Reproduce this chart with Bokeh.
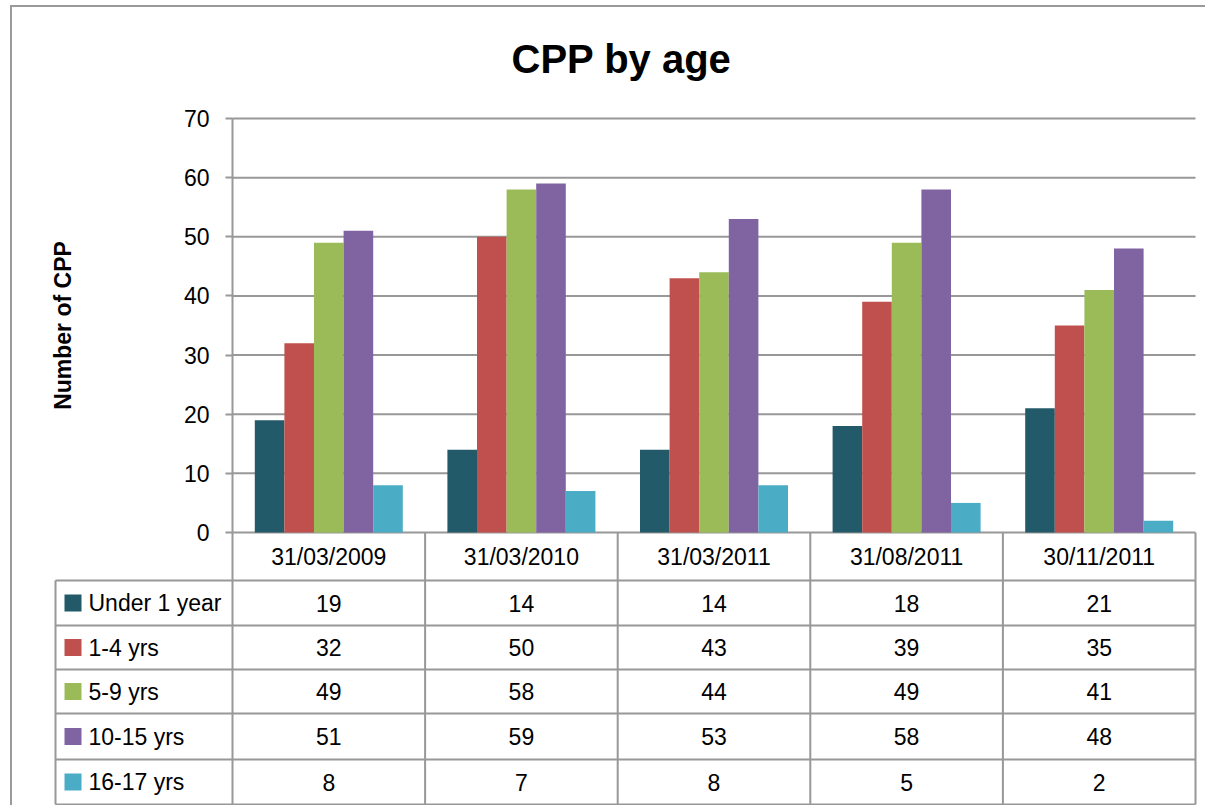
from bokeh.plotting import figure
from bokeh.models import Range1d, LinearAxis, FixedTicker
from bokeh.core.properties import value
from bokeh.embed import file_html
from bokeh.resources import INLINE

# ---------------- data ----------------
dates = ["31/03/2009", "31/03/2010", "31/03/2011", "31/08/2011", "30/11/2011"]
series_names = ["Under 1 year", "1-4 yrs", "5-9 yrs", "10-15 yrs", "16-17 yrs"]
under_1 = [19, 14, 14, 18, 21]
yrs_1_4 = [32, 50, 43, 39, 35]
yrs_5_9 = [49, 58, 44, 49, 41]
yrs_10_15 = [51, 59, 53, 58, 48]
yrs_16_17 = [8, 7, 8, 5, 2]
y_ticks = [0, 10, 20, 30, 40, 50, 60, 70]
colors = ["#235a69", "#c0504d", "#9bbb59", "#8064a2", "#4bacc6"]

series = [under_1, yrs_1_4, yrs_5_9, yrs_10_15, yrs_16_17]

# ---------------- layout (page pixels) ----------------
FONT = "Liberation Sans"
LINE = "#989898"
CANVAS_X0, CANVAS_Y0 = 12, 7
W, H = 1195, 800
FRAME_L, FRAME_R, FRAME_T, FRAME_B = 50, 1200, 95, 807
AXIS_X, TABLE_R = 232, 1195
TOP_Y, ZERO_Y = 118, 532
LEG_L = 55
HEADER_B = 580
ROW_LINES = [580, 625, 669, 713, 759, 804]
TITLE_L = 511

ncat = len(dates)
colw = (TABLE_R - AXIS_X) / ncat


def px_to_x(px):
    return -0.5 + (px - AXIS_X) / colw


y_max = y_ticks[-1]
ppu = (ZERO_Y - TOP_Y) / y_max
y_hi = (ZERO_Y - FRAME_T) / ppu
y_lo = -(FRAME_B - ZERO_Y) / ppu

p = figure(
    width=W, height=H,
    x_range=Range1d(px_to_x(FRAME_L), px_to_x(FRAME_R)),
    y_range=Range1d(y_lo, y_hi),
    x_axis_type=None, y_axis_type=None,
    output_backend="svg", toolbar_location=None,
    min_border_left=FRAME_L - CANVAS_X0,
    min_border_right=CANVAS_X0 + W - FRAME_R,
    min_border_top=FRAME_T - CANVAS_Y0,
    min_border_bottom=CANVAS_Y0 + H - FRAME_B,
    outline_line_color=None,
    background_fill_color="white", border_fill_color="white",
    styles={
        "border-top": "2px solid #9a9a9a",
        "border-left": "2px solid #9a9a9a",
        "margin-top": "5px",
        "margin-left": "10px",
    },
)
p.extra_y_ranges = {"tbl": Range1d(start=FRAME_B - ZERO_Y, end=FRAME_T - ZERO_Y)}

# title
p.title.text = "CPP by age"
p.title.align = "left"
p.title.offset = TITLE_L - FRAME_L
p.title.text_font = FONT
p.title.text_font_size = "40px"
p.title.text_font_style = "bold"
p.title.text_color = "black"
p.title.standoff = 29

# y axis at the left edge of the bar area
yax = LinearAxis(
    fixed_location=-0.5,
    ticker=FixedTicker(ticks=y_ticks),
    bounds=(0, y_max),
    axis_label="Number of CPP",
    axis_label_text_font=FONT,
    axis_label_text_font_size="23px",
    axis_label_text_font_style="bold",
    axis_label_text_color="black",
    axis_label_standoff=105,
    major_label_text_font=FONT,
    major_label_text_font_size="23px",
    major_label_text_color="black",
    major_label_standoff=16,
    major_tick_out=7, major_tick_in=0,
    major_tick_line_color=LINE, major_tick_line_width=2,
    minor_tick_line_color=None,
    axis_line_color=LINE, axis_line_width=2,
)
p.add_layout(yax, "left")

# horizontal gridlines over the bar area
x_left = px_to_x(AXIS_X)
x_right = px_to_x(TABLE_R)
p.segment(x0=[x_left] * len(y_ticks), x1=[x_right] * len(y_ticks),
          y0=y_ticks, y1=y_ticks, line_color=LINE, line_width=2)

# bars
bw = 29.6 / colw
for j, (vals, c) in enumerate(zip(series, colors)):
    xs = [i + (j - (len(series) - 1) / 2) * bw for i in range(ncat)]
    p.vbar(x=xs, top=vals, bottom=0, width=bw, fill_color=c, line_color=None)

# ---------------- data table ----------------
leg_x = px_to_x(LEG_L)
tb = ROW_LINES[-1] - ZERO_Y
p.segment(x0=[leg_x] * len(ROW_LINES), x1=[x_right] * len(ROW_LINES),
          y0=[r - ZERO_Y for r in ROW_LINES], y1=[r - ZERO_Y for r in ROW_LINES],
          line_color=LINE, line_width=2, y_range_name="tbl")
col_x = [i - 0.5 for i in range(ncat + 1)]
p.segment(x0=col_x, x1=col_x, y0=[0] * len(col_x), y1=[tb] * len(col_x),
          line_color=LINE, line_width=2, y_range_name="tbl")
p.segment(x0=[leg_x], x1=[leg_x], y0=[HEADER_B - ZERO_Y], y1=[tb],
          line_color=LINE, line_width=2, y_range_name="tbl")

p.text(x=list(range(ncat)), y=[(ZERO_Y + HEADER_B) / 2 - ZERO_Y] * ncat, text=dates,
       text_font=value(FONT), text_font_size="23px", text_color="black",
       text_align="center", text_baseline="middle", y_range_name="tbl")

row_centers = [(ROW_LINES[k] + ROW_LINES[k + 1]) / 2 - ZERO_Y for k in range(len(series))]
for k, vals in enumerate(series):
    p.text(x=list(range(ncat)), y=[row_centers[k]] * ncat, text=[str(v) for v in vals],
           text_font=value(FONT), text_font_size="23px", text_color="black",
           text_align="center", text_baseline="middle", y_range_name="tbl")

p.scatter(x=[px_to_x(72.5)] * len(series), y=row_centers, marker="square", size=17,
          fill_color=colors, line_color=None, y_range_name="tbl")
p.text(x=[px_to_x(88)] * len(series), y=row_centers, text=series_names,
       text_font=value(FONT), text_font_size="23px", text_color="black",
       text_align="left", text_baseline="middle", y_range_name="tbl")

open("out.html", "w").write(file_html(p, INLINE))
